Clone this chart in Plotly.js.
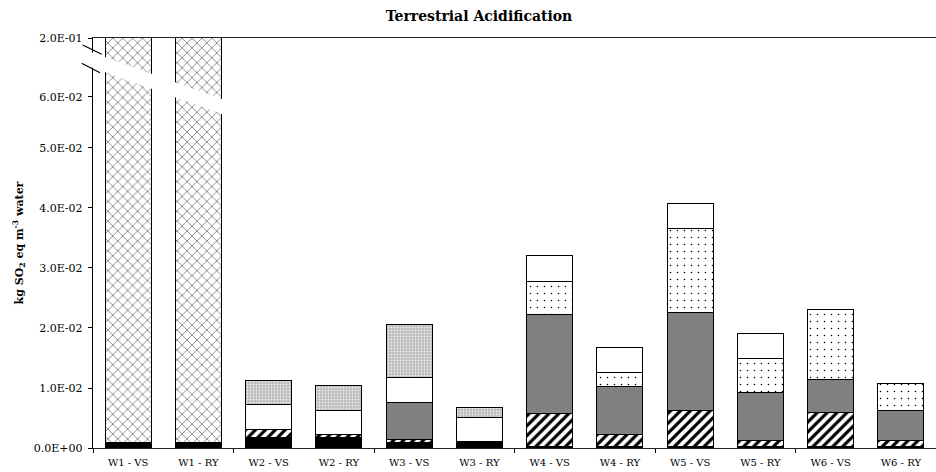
<!DOCTYPE html>
<html>
<head>
<meta charset="utf-8">
<script src="https://cdn.plot.ly/plotly-3.0.1.min.js"></script>
<style>html,body{margin:0;padding:0;background:#fff;}#chart{width:936px;height:472px;}</style>
</head>
<body>
<div id="chart"></div>
<script>
// ---- data ----
const categories = ["W1 - VS","W1 - RY","W2 - VS","W2 - RY","W3 - VS","W3 - RY","W4 - VS","W4 - RY","W5 - VS","W5 - RY","W6 - VS","W6 - RY"];
const blackBase   = [0.0010, 0.0010, 0.00178, 0.00178, 0.00088, 0.00105, 0.0002, 0.0002, 0.0002, 0.0002, 0.0002, 0.0002];
const brickW1     = [0.2, 0.2, 0, 0, 0, 0, 0, 0, 0, 0, 0, 0];
const stripes     = [0, 0, 0.00133, 0.00052, 0.00057, 0, 0.00558, 0.00208, 0.00608, 0.00102, 0.00575, 0.00102];
const darkGray    = [0, 0, 0, 0, 0.00617, 0, 0.0165, 0.00805, 0.01638, 0.00807, 0.0055, 0.00495];
const dotted      = [0, 0, 0, 0, 0, 0, 0.00547, 0.00228, 0.01395, 0.00555, 0.01155, 0.00462];
const whiteFill   = [0, 0, 0.00417, 0.00403, 0.00417, 0.00407, 0.00425, 0.00417, 0.00417, 0.00428, 0, 0];
const stippleGray = [0, 0, 0.00405, 0.00412, 0.00872, 0.00167, 0, 0, 0, 0, 0, 0];
const yTickVals = [0, 0.01, 0.02, 0.03, 0.04, 0.05, 0.05855, 0.06833];
const yTickText = ["0.0E+00","1.0E-02","2.0E-02","3.0E-02","4.0E-02","5.0E-02","6.0E-02","2.0E-01"];

// ---- layout helpers ----
const W = 936, H = 472;
const M = {l: 93, r: 0, t: 38, b: 24};
const pw = W - M.l - M.r, ph = H - M.t - M.b;
const px2x = p => (p - M.l) / pw;
const py2y = p => (H - M.b - p) / ph;
const FONT = "DejaVu Serif";

const xs = categories.map((_, i) => i);
const line = {color: '#000', width: 1};
function bar(name, vals, color, pattern) {
  const m = {color: color, line: line};
  if (pattern) m.pattern = pattern;
  return {type: 'bar', name: name, x: xs, y: vals, marker: m, width: 0.655, hoverinfo: 'skip'};
}
const traces = [
  bar('black', blackBase, '#000000'),
  bar('brick', brickW1, '#ffffff', {shape: 'x', fgcolor: '#000', bgcolor: '#fff', size: 7, solidity: 0.12}),
  bar('stripes', stripes, '#ffffff', {shape: '/', fgcolor: '#000', bgcolor: '#fff', size: 7, solidity: 0.45}),
  bar('gray', darkGray, '#808080'),
  bar('dots', dotted, '#ffffff', {shape: '.', fgcolor: '#000', bgcolor: '#fff', size: 7, solidity: 0.04}),
  bar('white', whiteFill, '#ffffff'),
  bar('stipple', stippleGray, '#c4c4c4', {shape: '.', fgcolor: '#ececec', bgcolor: '#bcbcbc', size: 3, solidity: 0.3})
];

// broken-axis decoration
const bandPath = (() => {
  const x0 = 88, x1 = 226, s = 0.36;
  const yu = x => 57 + s * (x - 105), yl = x => 72 + s * (x - 105);
  return `M ${px2x(x0)} ${py2y(yu(x0))} L ${px2x(x1)} ${py2y(yu(x1))} L ${px2x(x1)} ${py2y(yl(x1))} L ${px2x(x0)} ${py2y(yl(x0))} Z`;
})();

const layout = {
  width: W, height: H,
  margin: M,
  paper_bgcolor: '#fff', plot_bgcolor: '#fff',
  barmode: 'stack',
  showlegend: false,
  font: {family: FONT, color: '#000', size: 10},
  title: {text: '<b>Terrestrial Acidification</b>', font: {family: FONT, size: 14, color: '#000'},
          x: 479 / W, xanchor: 'center', y: 1 - 16 / H, yanchor: 'middle'},
  xaxis: {
    range: [-0.5, 11.5], tickvals: xs, ticktext: categories, ticks: '',
    showgrid: false, zeroline: false, showline: true, linecolor: '#222', linewidth: 1.2, mirror: true,
    tickfont: {family: FONT, size: 10, color: '#000'}, ticklabelstandoff: 5,
    minor: {tickvals: [-0.5, 1.5, 3.5, 5.5, 7.5, 9.5], ticks: 'outside', ticklen: 4, tickcolor: '#000', tickwidth: 1, showgrid: false}
  },
  yaxis: {
    range: [0, 0.06833], tickvals: yTickVals, ticktext: yTickText,
    ticks: 'outside', ticklen: 4, tickcolor: '#000', tickwidth: 1,
    showgrid: false, zeroline: false, showline: true, linecolor: '#000', linewidth: 1.2,
    tickfont: {family: FONT, size: 11, color: '#000'}, ticklabelstandoff: 3,
    title: {text: '<b>kg SO<sub>2</sub> eq m<sup>-3</sup> water</b>', font: {family: FONT, size: 11, color: '#000'}, standoff: 8}
  },
  shapes: [
    {type: 'path', xref: 'paper', yref: 'paper', path: bandPath, fillcolor: '#fff', line: {width: 0}, layer: 'above'},
    {type: 'line', xref: 'paper', yref: 'paper', x0: px2x(82.7), y0: py2y(45), x1: px2x(101.7), y1: py2y(54.3), line: {color: '#000', width: 1.2}, layer: 'above'},
    {type: 'line', xref: 'paper', yref: 'paper', x0: px2x(81.7), y0: py2y(63.3), x1: px2x(100), y1: py2y(72.7), line: {color: '#000', width: 1.2}, layer: 'above'}
  ]
};

Plotly.newPlot('chart', traces, layout, {staticPlot: true, displayModeBar: false});
</script>
</body>
</html>
